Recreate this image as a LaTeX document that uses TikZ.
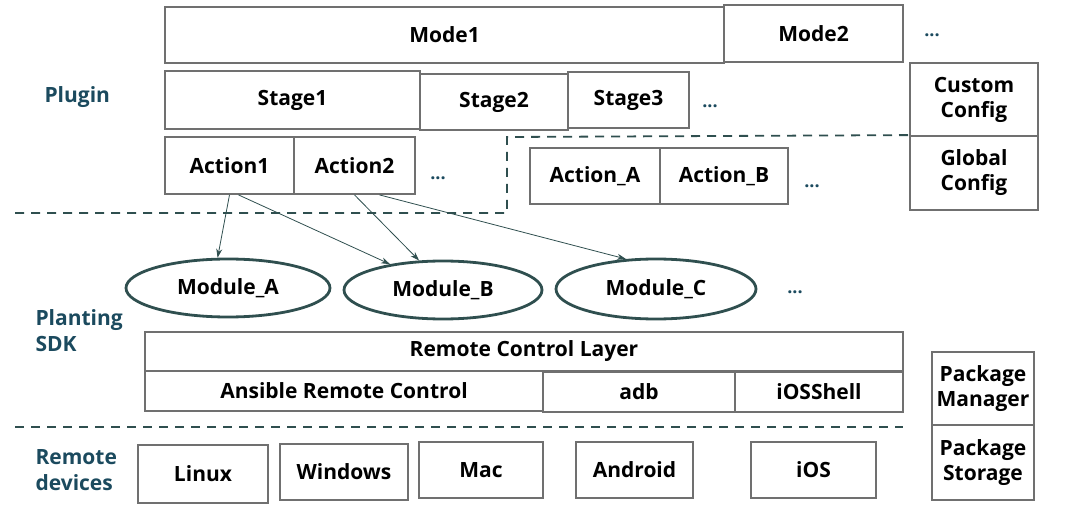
\documentclass[tikz,border=0pt]{standalone}
\usepackage{fontspec}
\setmainfont{Open Sans}
\usetikzlibrary{positioning,arrows.meta,shapes.geometric}
\definecolor{navy}{HTML}{1B4A5E}
\definecolor{slate}{HTML}{2F4F4F}
\definecolor{edge}{HTML}{707070}

\begin{document}
\begin{tikzpicture}[x=1pt, y=-1pt, font=\fontsize{21}{25}\selectfont\bfseries,
          box/.style={draw=edge, line width=1.8pt, align=center, inner sep=2pt},
          module/.style={ellipse, draw=slate, line width=2.8pt, inner sep=0pt},
          layer/.style={text=navy, align=left, anchor=west, font=\fontsize{21}{26}\selectfont\bfseries},
          more/.style={text=navy, font=\fontsize{18}{18}\selectfont\bfseries},
          sep/.style={draw=slate, line width=1.8pt, dash pattern=on 9pt off 7pt},
          link/.style={-{Stealth[length=9pt, width=6pt]}, draw=slate, line width=0.8pt}]
        \useasboundingbox (0,0) rectangle (1080,513);

        % plugin
        \node[box, minimum width=559, minimum height=56] (mode1) at (444.5,35)  {Mode1};
        \node[box, minimum width=179, minimum height=57] (mode2) at (813.5,33.5) {Mode2};
        \node[more] (dm) at (932,35) {...};
        \node[box, minimum width=255, minimum height=58] (st1) at (292.5,100) {Stage1};
        \node[box, minimum width=148, minimum height=56] (st2) at (494,102)   {Stage2};
        \node[box, minimum width=121, minimum height=56] (st3) at (628.5,100) {Stage3};
        \node[more] (ds) at (710,106) {...};
        \node[box, minimum width=128, minimum height=73] (cust) at (974,99.5) {Custom\\Config};
        \node[box, minimum width=128, minimum height=74] (glob) at (974,173)  {Global\\Config};
        \node[box, minimum width=129, minimum height=57] (act1) at (229.5,165.5) {Action1};
        \node[box, minimum width=121, minimum height=57] (act2) at (354.5,165.5) {Action2};
        \node[more] (da) at (438,178) {...};
        \node[box, minimum width=130, minimum height=56] (actA) at (595,176) {Action\_A};
        \node[box, minimum width=128, minimum height=56] (actB) at (724,176) {Action\_B};
        \node[more] (db) at (812,186) {...};
        \node[layer] (plug) at (41,97) {Plugin};

        \draw[sep] (15,213) -- (507,213) -- (507,137) -- (glob.north west);

        % planting sdk
        \node[module, minimum width=204, minimum height=58] (modA) at (228,288) {Module\_A};
        \node[module, minimum width=198, minimum height=58] (modB) at (443,290) {Module\_B};
        \node[module, minimum width=200, minimum height=60] (modC) at (656,289) {Module\_C};
        \node[more] (dmod) at (795,292) {...};

        \draw[link] (act1.south) -- (modA.109);
        \draw[link] ([xshift=9pt]act1.south) -- (modB.154);
        \draw[link] (act2.south) -- (modB.129);
        \draw[link] ([xshift=25pt]act2.south) -- (modC.135);

        \node[box, minimum width=758, minimum height=39] (rcl)  at (524,351.5) {Remote Control Layer};
        \node[box, minimum width=398, minimum height=40] (ansi) at (344,391)   {Ansible Remote Control};
        \node[box, minimum width=192, minimum height=40] (adb)  at (639,392)   {adb};
        \node[box, minimum width=168, minimum height=40] (ishl) at (819,392)   {iOSShell};
        \node[box, minimum width=102, minimum height=73] (pkgm) at (983,388.5) {Package\\Manager};
        \node[box, minimum width=102, minimum height=75] (pkgs) at (983,462.5) {Package\\Storage};
        \node[layer] (sdk) at (32,331) {Planting\\SDK};

        \draw[sep] (15,427) -- (903,427);

        % remote devices
        \node[box, minimum width=130, minimum height=58] (linux) at (203,474)   {Linux};
        \node[box, minimum width=128, minimum height=56] (win)   at (344,472)   {Windows};
        \node[box, minimum width=124, minimum height=56] (mac)   at (481,470)   {Mac};
        \node[box, minimum width=117, minimum height=56] (andr)  at (634.5,470) {Android};
        \node[box, minimum width=125, minimum height=56] (ios)   at (813.5,470) {iOS};
        \node[layer] (devs) at (32,470) {Remote\\devices};
      \end{tikzpicture}
\end{document}
